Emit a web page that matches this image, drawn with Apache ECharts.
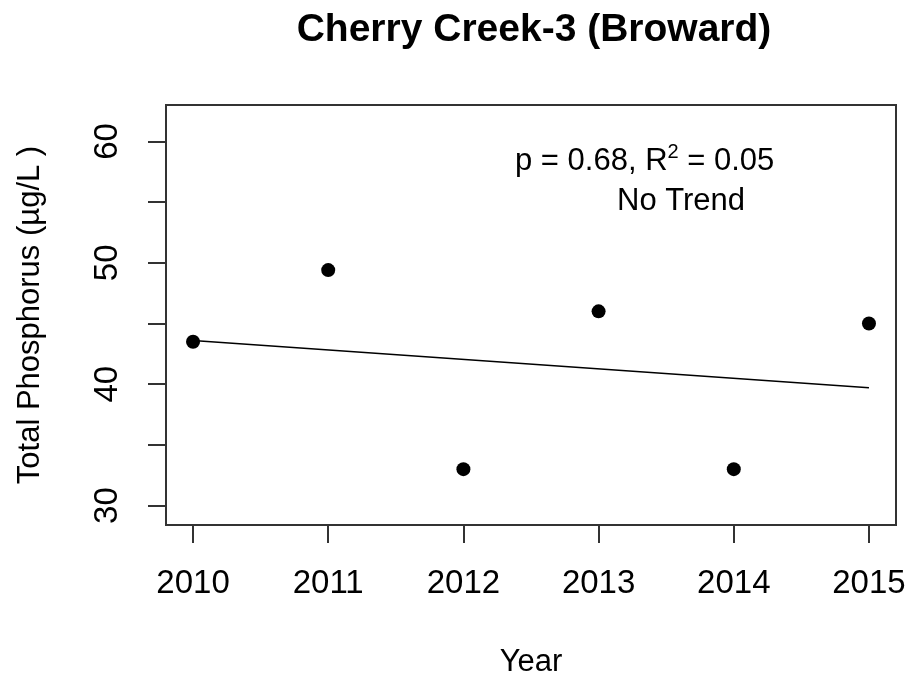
<!DOCTYPE html>
<html>
<head>
<meta charset="utf-8">
<script src="https://cdn.jsdelivr.net/npm/echarts@6/dist/echarts.min.js"></script>
<style>html,body{margin:0;padding:0;background:#fff}#c{width:909px;height:679px}</style>
</head>
<body>
<div id="c"></div>
<script>
var years = [2010, 2011, 2012, 2013, 2014, 2015];
var phosphorus = [43.5, 49.4, 33.0, 46.0, 33.0, 45.0];
var trendYears = [2010, 2015];
var trendValues = [43.6, 39.7];
var xTicks = [2010, 2011, 2012, 2013, 2014, 2015];
var yTicks = [30, 35, 40, 45, 50, 55, 60];
var yLabels = [30, 40, 50, 60];

var chart = echarts.init(document.getElementById('c'), null, {renderer: 'canvas'});
var FONT = '"Liberation Sans", Arial, sans-serif';
chart.setOption({
  animation: false,
  backgroundColor: '#fff',
  title: {
    text: 'Cherry Creek-3 (Broward)',
    left: 529, textAlign: 'center', top: 6,
    textStyle: {fontFamily: FONT, fontWeight: 'bold', fontSize: 39, color: '#000'}
  },
  grid: {left: 166, right: 13, top: 105, bottom: 154, show: true, borderColor: '#333', borderWidth: 2,
         backgroundColor: 'transparent', containLabel: false, outerBoundsMode: 'none'},
  xAxis: {
    type: 'value', min: 2009.8, max: 2015.2,
    name: 'Year', nameLocation: 'middle', nameGap: 122,
    nameTextStyle: {fontFamily: FONT, fontSize: 31, color: '#000'},
    axisLine: {show: false},
    splitLine: {show: false},
    axisTick: {show: true, length: 18, inside: false, lineStyle: {color: '#333', width: 2}, customValues: xTicks},
    axisLabel: {customValues: xTicks, margin: 42, fontFamily: FONT, fontSize: 33, color: '#000', formatter: function(v){return String(v);}}
  },
  yAxis: {
    type: 'value', min: 28.4, max: 63,
    name: 'Total Phosphorus (\u00b5g/L )', nameLocation: 'middle', nameGap: 120,
    nameTextStyle: {fontFamily: FONT, fontSize: 31, color: '#000'},
    axisLine: {show: false},
    splitLine: {show: false},
    axisTick: {show: true, length: 18, inside: false, lineStyle: {color: '#333', width: 2}, customValues: yTicks},
    axisLabel: {customValues: yLabels, rotate: 90, margin: 42, fontFamily: FONT, fontSize: 33, color: '#000', formatter: function(v){return String(v);}}
  },
  graphic: [
    {type: 'text', left: 515, top: 142, style: {
      text: '{a|p = 0.68, R}{s|2}{a| = 0.05}',
      rich: {a: {fontFamily: FONT, fontSize: 31, color: '#000', lineHeight: 34},
             s: {fontFamily: FONT, fontSize: 20, color: '#000', lineHeight: 20, padding: [0,0,18,0]}}
    }},
    {type: 'text', left: 617, top: 186, style: {text: 'No Trend', font: '31px ' + FONT, fill: '#000'}}
  ],
  series: [
    {type: 'line', data: trendYears.map(function(y,i){return [y, trendValues[i]];}), symbol: 'none',
     lineStyle: {color: '#000', width: 1.5}, silent: true},
    {type: 'scatter', data: years.map(function(y,i){return [y, phosphorus[i]];}), symbol: 'circle', symbolSize: 14,
     itemStyle: {color: '#000', opacity: 1}}
  ]
});
</script>
</body>
</html>
